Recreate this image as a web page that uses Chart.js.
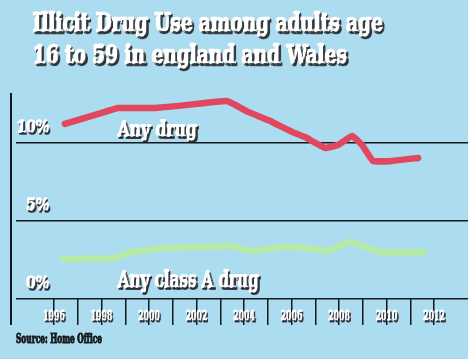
<!DOCTYPE html>
<html><head><meta charset="utf-8">
<script src="https://cdn.jsdelivr.net/npm/chart.js@4/dist/chart.umd.min.js"></script>
<style>html,body{margin:0;padding:0;background:#acdcf0;}canvas{display:block;}</style>
</head><body>
<canvas id="c" width="468" height="359"></canvas>
<script>
// ---- text ----
const titleLines = ['Illicit Drug Use among adults age', '16 to 59 in england and Wales'];
const sourceText = 'Source: Home Office';
const anyDrugLabel = 'Any drug';
const classALabel = 'Any class A drug';

// ---- axes ----
const tickYears = [1996,1997,1998,1999,2000,2001,2002,2003,2004,2005,2006,2007,2008,2009,2010,2011,2012];
const yTickValues = [0, 5, 10];

// ---- series ----
const anyDrugYears  = [1996.46,1998.15,1998.69,2000.25,2001.64,2003.28,2004.17,2005.01,2006.02,2006.57,2007.41,2007.96,2008.55,2008.97,2009.43,2010.23,2011.33];
const anyDrugValues = [11.22,11.99,12.24,12.24,12.44,12.69,11.99,11.47,10.71,10.38,9.68,9.87,10.45,9.87,8.85,8.85,9.04];
const classAYears   = [1996.38,1998.57,1999.12,2000.25,2001.94,2003.49,2003.83,2004.38,2005.52,2006.65,2007.49,2008.46,2009.73,2011.54];
const classAValues  = [2.56,2.63,2.95,3.21,3.33,3.40,3.27,3.08,3.33,3.27,3.08,3.65,3.01,3.01];

const HEAVY = "'DejaVu Serif Condensed', 'DejaVu Serif', serif";
const BG = '#acdcf0';
const INK = '#15191b';
const SHADOW = 'rgba(35,40,45,0.85)';

function toPoints(xs, ys){ return xs.map((x,i)=>({x:x, y:ys[i]})); }

function drawCondensed(ctx, text, x, y, size, width, color, shadow, stroke){
  ctx.save();
  ctx.font = 'bold ' + size + 'px ' + HEAVY;
  ctx.textBaseline = 'alphabetic';
  ctx.textAlign = 'left';
  const w = ctx.measureText(text).width;
  const sx = width / w;
  if (shadow) {
    ctx.shadowColor = SHADOW;
    ctx.shadowOffsetX = 1.6;
    ctx.shadowOffsetY = 1.6;
    ctx.shadowBlur = 0.5;
  }
  ctx.translate(x, y);
  ctx.scale(sx, 1);
  ctx.fillStyle = color;
  ctx.strokeStyle = color;
  ctx.lineJoin = 'round';
  ctx.lineWidth = stroke;
  if (stroke > 0) ctx.strokeText(text, 0, 0);
  ctx.fillText(text, 0, 0);
  ctx.restore();
}

function patchLabels(scale, sx, strokeW, shiftX, align){
  if (scale._patched) return;
  scale.drawLabels = function(area){
    const c = this.ctx;
    const items = this.getLabelItems(area);
    c.save();
    c.shadowColor = SHADOW;
    c.shadowOffsetX = 1.2;
    c.shadowOffsetY = 1.2;
    c.shadowBlur = 0.5;
    for (const it of items) {
      if (!it.label) continue;
      const o = it.options;
      c.save();
      c.translate(o.translation[0] + shiftX, o.translation[1]);
      c.scale(sx, 1);
      c.font = it.font.string;
      c.fillStyle = o.color;
      c.strokeStyle = o.color;
      c.lineJoin = 'round';
      c.lineWidth = strokeW;
      c.textAlign = align || o.textAlign;
      c.textBaseline = o.textBaseline;
      c.strokeText(String(it.label), 0, it.textOffset);
      c.fillText(String(it.label), 0, it.textOffset);
      c.restore();
    }
    c.restore();
  };
  scale._patched = true;
}

const decor = {
  id: 'decor',
  beforeDraw(chart){
    const ctx = chart.ctx;
    ctx.save();
    ctx.fillStyle = BG;
    ctx.fillRect(0, 0, chart.width, chart.height);
    ctx.restore();
    patchLabels(chart.scales.x, 0.72, 1.0, 0, null);
    patchLabels(chart.scales.y, 0.9, 1.6, 32, 'right');
  },
  afterDatasetsDraw(chart){
    const ctx = chart.ctx;
    const ca = chart.chartArea;
    const xs = chart.scales.x, ys = chart.scales.y;
    // vertical axis line
    ctx.save();
    ctx.strokeStyle = INK;
    ctx.lineWidth = 2;
    ctx.beginPath();
    ctx.moveTo(ca.left - 5, ca.top);
    ctx.lineTo(ca.left - 5, xs.bottom);
    ctx.stroke();
    ctx.restore();
    // series labels
    drawCondensed(ctx, anyDrugLabel, xs.getPixelForValue(1998.69), ys.getPixelForValue(10.45), 21, 79, '#ffffff', true, 1.9);
    drawCondensed(ctx, classALabel, xs.getPixelForValue(1998.69), ys.getPixelForValue(0.77), 22, 141, '#ffffff', true, 1.9);
  },
  afterDraw(chart){
    const ctx = chart.ctx;
    drawCondensed(ctx, titleLines[0], 33, 31, 25, 350, '#ffffff', true, 2.3);
    drawCondensed(ctx, titleLines[1], 33, 63, 25, 314, '#ffffff', true, 2.3);
    drawCondensed(ctx, sourceText, 16, 343, 12.5, 86, INK, false, 1.0);
  }
};

new Chart(document.getElementById('c'), {
  type: 'line',
  data: {
    datasets: [
      { label: anyDrugLabel, data: toPoints(anyDrugYears, anyDrugValues), borderColor: '#e1475f', borderWidth: 6.5, pointRadius: 0, tension: 0.1, borderCapStyle: 'round', borderJoinStyle: 'round', fill: false },
      { label: classALabel, data: toPoints(classAYears, classAValues), borderColor: '#b6eba5', borderWidth: 6.5, pointRadius: 0, tension: 0.15, borderCapStyle: 'round', borderJoinStyle: 'round', fill: false }
    ]
  },
  options: {
    responsive: false,
    animation: false,
    events: [],
    layout: { padding: { top: 93, bottom: 34, left: 11, right: 0 } },
    plugins: { legend: { display: false }, tooltip: { enabled: false }, title: { display: false } },
    scales: {
      x: {
        type: 'linear',
        min: 1994.4,
        max: 2013.43,
        afterBuildTicks(scale){ scale.ticks = tickYears.map(v => ({ value: v })); },
        afterFit(scale){ scale.height = 26; },
        grid: { display: true, drawOnChartArea: false, drawTicks: true, tickLength: 26, color: INK, lineWidth: 1.5 },
        border: { display: false },
        ticks: {
          autoSkip: false, maxRotation: 0, minRotation: 0, padding: -15, z: 1,
          color: '#ffffff',
          font: { family: HEAVY, size: 12, weight: 'bold' },
          callback: (v) => (v % 2 === 0 ? String(v) : '')
        }
      },
      y: {
        min: 0,
        max: 13.2,
        afterBuildTicks(scale){ scale.ticks = yTickValues.map(v => ({ value: v })); },
        afterFit(scale){ scale.width = 5; },
        grid: { color: INK, lineWidth: 1.5, drawTicks: false },
        border: { display: false },
        ticks: {
          mirror: true, padding: 1, labelOffset: -15, z: 1, autoSkip: false,
          color: '#ffffff',
          font: { family: HEAVY, size: 17, weight: 'bold' },
          callback: (v) => v + '%'
        }
      }
    }
  },
  plugins: [decor]
});
</script>
</body></html>
